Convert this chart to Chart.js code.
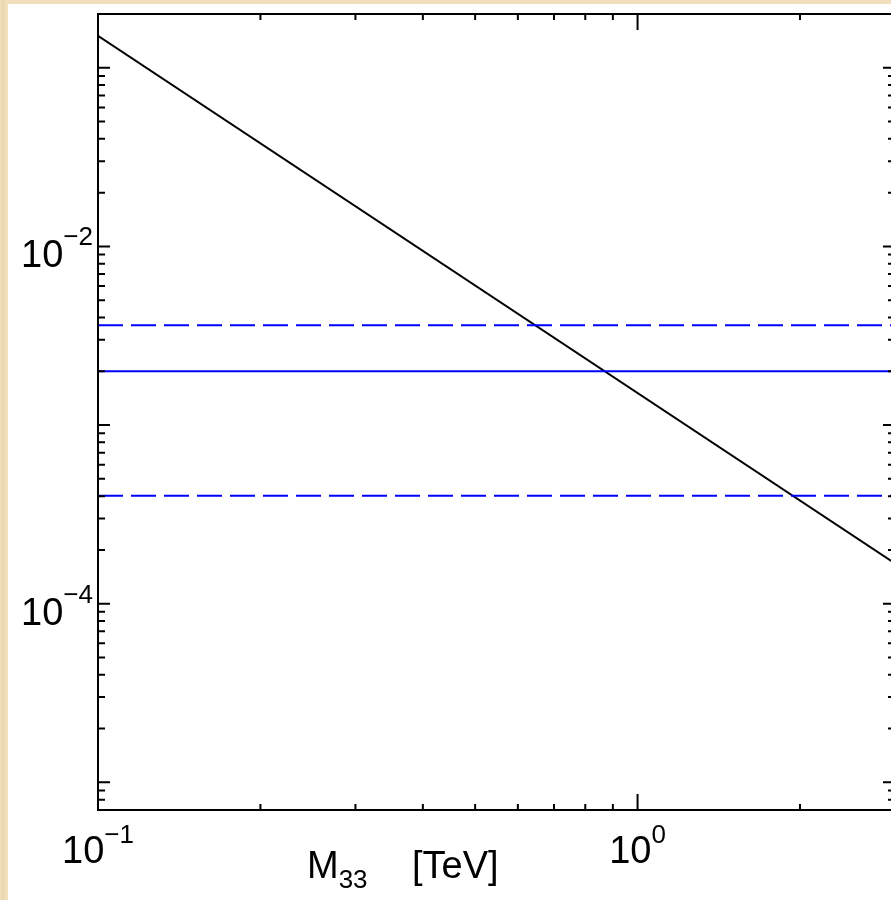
<!DOCTYPE html>
<html>
<head>
<meta charset="utf-8">
<script src="https://cdn.jsdelivr.net/npm/chart.js@4/dist/chart.umd.min.js"></script>
<style>
  html, body { margin: 0; padding: 0; overflow: hidden; }
  body {
    width: 891px; height: 900px;
    background: #efdfba;
    background-image: linear-gradient(90deg, #f2e2bf 0, #e9d6ad 3px, #f1e0bb 6px);
  }
  #wrap { position: absolute; left: 8px; top: 4px; width: 900px; height: 896px; background: #fff; }
</style>
</head>
<body>
<div id="wrap"><canvas id="myChart" width="900" height="896"></canvas></div>
<script>
// x values in TeV
const massTeV = [0.1, 3];
// black line (falls as 1/M^2)
const boundY = [0.151, 0.000168];
// blue band: central value and upper / lower dashed lines
const centralY = [0.002, 0.002];
const upperY = [0.00362, 0.00362];
const lowerY = [0.000402, 0.000402];

// axes
const xMin = 0.1, xMax = 3;
const yMin = 7e-6, yMax = 0.2;
const xMajorTicks = [0.1, 1];
const xTickLabels = [['10', '\u22121'], ['10', '0']];
const yMajorTicks = [1e-1, 1e-2, 1e-3, 1e-4, 1e-5];
const yLabelTicks = [1e-2, 1e-4];
const yTickLabels = [['10', '\u22122'], ['10', '\u22124']];

function minorTicks(min, max) {
  const out = [];
  for (let e = Math.floor(Math.log10(min)); e <= Math.ceil(Math.log10(max)); e++) {
    for (let k = 2; k <= 9; k++) {
      const v = k * Math.pow(10, e);
      if (v >= min * 0.999 && v <= max * 1.001) out.push(v);
    }
  }
  return out;
}

const toPts = ys => massTeV.map((x, i) => ({ x: x, y: ys[i] }));

const FONT = '"Liberation Sans", Arial, Helvetica, sans-serif';

const framePlugin = {
  id: 'frame',
  afterDraw(chart) {
    const ctx = chart.ctx;
    const a = chart.chartArea;
    const xs = chart.scales.x, ys = chart.scales.y;
    ctx.save();
    ctx.strokeStyle = '#000';
    ctx.lineWidth = 2;
    ctx.strokeRect(a.left, a.top, a.right - a.left, a.bottom - a.top);

    ctx.beginPath();
    // x ticks, bottom and top
    xMajorTicks.forEach(v => {
      const px = xs.getPixelForValue(v);
      ctx.moveTo(px, a.bottom); ctx.lineTo(px, a.bottom - 16);
      ctx.moveTo(px, a.top); ctx.lineTo(px, a.top + 16);
    });
    minorTicks(xMin, xMax).forEach(v => {
      const px = xs.getPixelForValue(v);
      ctx.moveTo(px, a.bottom); ctx.lineTo(px, a.bottom - 6);
      ctx.moveTo(px, a.top); ctx.lineTo(px, a.top + 6);
    });
    // y ticks, left and right
    yMajorTicks.forEach(v => {
      const py = ys.getPixelForValue(v);
      ctx.moveTo(a.left, py); ctx.lineTo(a.left + 12, py);
      ctx.moveTo(a.right, py); ctx.lineTo(a.right - 12, py);
    });
    minorTicks(yMin, yMax).forEach(v => {
      const py = ys.getPixelForValue(v);
      if (py <= a.top + 1 || py >= a.bottom - 1) return;
      ctx.moveTo(a.left, py); ctx.lineTo(a.left + 7, py);
      ctx.moveTo(a.right, py); ctx.lineTo(a.right - 7, py);
    });
    ctx.stroke();

    // tick labels with exponents
    ctx.fillStyle = '#000';
    ctx.textBaseline = 'alphabetic';
    const big = '38px ' + FONT, small = '26px ' + FONT;
    xMajorTicks.forEach((v, i) => {
      const px = xs.getPixelForValue(v);
      const [b, s] = xTickLabels[i];
      ctx.font = big; const wb = ctx.measureText(b).width;
      ctx.font = small; const ws = ctx.measureText(s).width;
      const x0 = px - (wb + ws) / 2;
      ctx.font = big; ctx.textAlign = 'left';
      ctx.fillText(b, x0, a.bottom + 53);
      ctx.font = small;
      ctx.fillText(s, x0 + wb, a.bottom + 33);
    });
    yLabelTicks.forEach((v, i) => {
      const py = ys.getPixelForValue(v);
      const [b, s] = yTickLabels[i];
      ctx.font = small; const ws = ctx.measureText(s).width;
      ctx.font = big; const wb = ctx.measureText(b).width;
      const x1 = a.left - 5;
      ctx.textAlign = 'left';
      ctx.fillText(b, x1 - ws - wb, py + 21);
      ctx.font = small;
      ctx.fillText(s, x1 - ws, py - 1);
    });

    // axis title M_33 [TeV]
    const tx = a.left + 209, tb = a.bottom + 68;
    ctx.font = big; ctx.textAlign = 'left';
    ctx.fillText('M', tx, tb);
    const wm = ctx.measureText('M').width;
    ctx.font = small;
    ctx.fillText('33', tx + wm, tb + 10);
    ctx.font = big;
    ctx.fillText('[TeV]', tx + 105, tb);
    ctx.restore();
  }
};

const lineStyle = { pointRadius: 0, fill: false, tension: 0, borderWidth: 2 };

new Chart(document.getElementById('myChart'), {
  type: 'line',
  data: {
    datasets: [
      Object.assign({ label: 'upper', data: toPts(upperY), borderColor: '#0000ff', borderDash: [25, 8] }, lineStyle),
      Object.assign({ label: 'central', data: toPts(centralY), borderColor: '#0000ff' }, lineStyle),
      Object.assign({ label: 'lower', data: toPts(lowerY), borderColor: '#0000ff', borderDash: [25, 8] }, lineStyle),
      Object.assign({ label: 'bound', data: toPts(boundY), borderColor: '#000000' }, lineStyle)
    ]
  },
  options: {
    responsive: false,
    animation: false,
    devicePixelRatio: 1,
    layout: { padding: { left: 90, top: 10, right: 13, bottom: 90 } },
    plugins: { legend: { display: false }, tooltip: { enabled: false } },
    scales: {
      x: { type: 'logarithmic', min: xMin, max: xMax, display: false },
      y: { type: 'logarithmic', min: yMin, max: yMax, display: false }
    }
  },
  plugins: [framePlugin]
});
</script>
</body>
</html>
